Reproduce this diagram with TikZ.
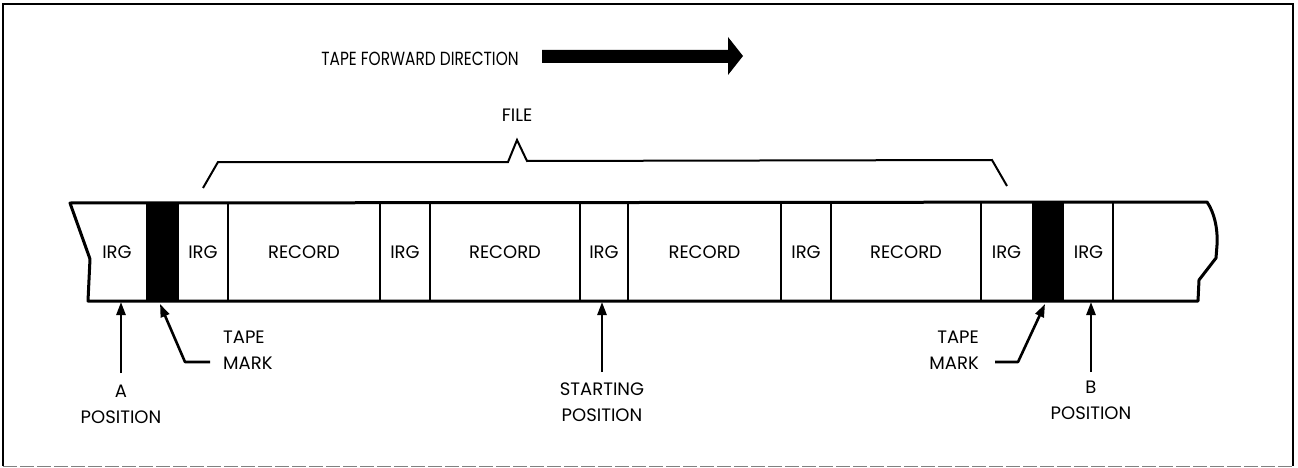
\documentclass[tikz,border=0pt]{standalone}
\usepackage{fontspec}
\setmainfont{Poppins}
\newfontfamily\lblfont{Poppins}
\newfontfamily\titlefont[FakeStretch=0.81]{Poppins}
\usetikzlibrary{arrows.meta}
\begin{document}
\begin{tikzpicture}[x=1pt,y=-1pt,
  lbl/.style={font=\lblfont\fontsize{18}{26}\selectfont, inner sep=0pt, align=center},
  cell/.style={lbl, minimum height=97pt, inner sep=0pt},
  tapeline/.style={line width=3pt, line join=round},
  sep/.style={line width=2pt},
  ptr/.style={line width=2.6pt, -{Triangle[length=13pt,width=9pt]}, line join=round},
  brace/.style={line width=2pt, line join=miter}
]
\useasboundingbox (0,0) rectangle (1298,468);
% frame
\draw[line width=1.2pt] (3,466) -- (3,4) -- (1293,4) -- (1293,466);
\draw[line width=0.8pt, gray, dash pattern=on 14pt off 3pt] (3,466) -- (1293,466);

% title arrow
\node[lbl, font=\titlefont\fontsize{19}{26}\selectfont, anchor=center] (title) at (420,59) {TAPE FORWARD DIRECTION};
\fill (542,50) -- (728,50) -- (728,37) -- (743,56) -- (728,75) -- (728,63) -- (542,63) -- cycle;

% file brace
\node[lbl] (file) at (517,115) {FILE};
\coordinate (bl) at (203,188);
\coordinate (br) at (1007,186);
\draw[brace] (bl) -- (218,162) -- (508,162) -- (517,140) -- (527,161) -- (992,160) -- (br);

% tape cells
\node[cell, minimum width=58pt] (c0) at (117,252) {IRG};
\fill (146,203) rectangle (178,301);
\node[minimum width=32pt, minimum height=97pt, inner sep=0pt] (tm1) at (162,252) {};
\node[cell, minimum width=50pt] (c1) at (203,252) {IRG};
\node[cell, minimum width=152pt] (r1) at (304,252) {RECORD};
\node[cell, minimum width=50pt] (c2) at (405,252) {IRG};
\node[cell, minimum width=150pt] (r2) at (505,252) {RECORD};
\node[cell, minimum width=48pt] (c3) at (604,252) {IRG};
\node[cell, minimum width=153pt] (r3) at (704.5,252) {RECORD};
\node[cell, minimum width=50pt] (c4) at (806,252) {IRG};
\node[cell, minimum width=150pt] (r4) at (906,252) {RECORD};
\node[cell, minimum width=51pt] (c5) at (1006.5,252) {IRG};
\fill (1032,203) rectangle (1064,301);
\node[minimum width=32pt, minimum height=97pt, inner sep=0pt] (tm2) at (1048,252) {};
\node[cell, minimum width=49pt] (c6) at (1088.5,252) {IRG};

% separators
\foreach \n in {c1,r1,c2,r2,c3,r3,c4,r4,c6}{
  \draw[sep] (\n.north east) -- (\n.south east);
}
\draw[sep] (c1.north west) -- (c1.south west);

% tape outline
\draw[tapeline] (70,203) -- (1207,202)
  .. controls (1214,212) and (1218,228) .. (1217,245)
  -- (1216,258) -- (1199,280) -- (1198,301) -- (88,301) -- (90,259) -- cycle;

% pointers
\node[lbl] (posA) at (121,404) {A\\POSITION};
\draw[ptr] (121,373) -- (121,302);

\node[lbl, align=left, anchor=west] (tmA) at (223,350) {TAPE\\MARK};
\coordinate (ka) at (210,362);
\draw[ptr] (ka) -- (185,362) -- (160,304);

\node[lbl] (start) at (602,402) {STARTING\\POSITION};
\draw[ptr] (602,372) -- (602,302);

\node[lbl, align=right, anchor=east] (tmB) at (979,350) {TAPE\\MARK};
\coordinate (kb) at (995,362);
\draw[ptr] (kb) -- (1018,362) -- (1045,304);

\node[lbl] (posB) at (1091,400) {B\\POSITION};
\draw[ptr] (1091,372) -- (1091,302);
\end{tikzpicture}
\end{document}
